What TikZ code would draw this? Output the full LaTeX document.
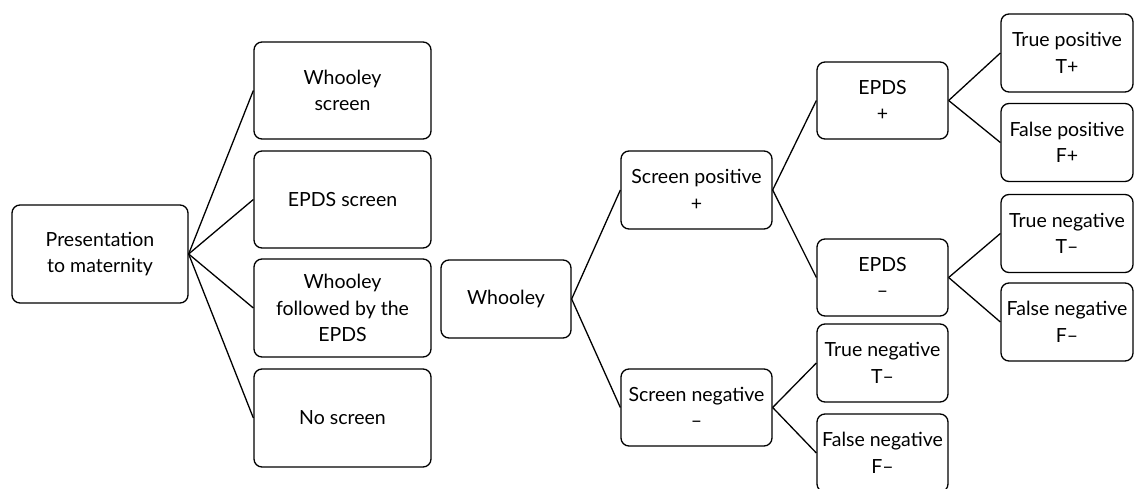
\documentclass[tikz,border=0pt]{standalone}
\usepackage{fontspec}
\setmainfont{Lato}
\begin{document}
\begin{tikzpicture}[x=1pt,y=-1pt,
  box/.style={draw,line width=1.3pt,rounded corners=8pt,align=center,inner sep=0pt,
    font=\fontsize{19.5}{26.5}\selectfont},
  conn/.style={line width=1.3pt}]
\useasboundingbox (0,0) rectangle (1135,489);
\clip (0,0) rectangle (1135,489);
\node[box,minimum width=176pt,minimum height=98pt] (pres) at (100,254) {Presentation\\to maternity};
\node[box,minimum width=177pt,minimum height=97pt] (ws) at (342.5,90.5) {Whooley\\screen};
\node[box,minimum width=177pt,minimum height=97pt] (es) at (342.5,199.5) {EPDS screen};
\node[box,minimum width=177pt,minimum height=98pt] (wf) at (342.5,308) {Whooley\\followed by the\\EPDS};
\node[box,minimum width=177pt,minimum height=98pt] (ns) at (342.5,418) {No screen};
\node[box,minimum width=130pt,minimum height=78pt] (wh) at (506,299) {Whooley};
\node[box,minimum width=151pt,minimum height=78pt] (sp) at (696.5,190) {Screen positive\\+};
\node[box,minimum width=151pt,minimum height=77pt] (sn) at (696.5,407.5) {Screen negative\\–};
\node[box,minimum width=131pt,minimum height=77pt] (ep) at (882.5,100.5) {EPDS\\+};
\node[box,minimum width=131pt,minimum height=77pt] (em) at (882.5,277.5) {EPDS\\–};
\node[box,minimum width=131pt,minimum height=78pt] (tn1) at (882.5,363) {True negative\\T–};
\node[box,minimum width=131pt,minimum height=78pt] (fn1) at (882.5,453) {False negative\\F–};
\node[box,minimum width=132pt,minimum height=78pt] (tp) at (1067,53) {True positive\\T+};
\node[box,minimum width=132pt,minimum height=78pt] (fp) at (1067,142.5) {False positive\\F+};
\node[box,minimum width=132pt,minimum height=78pt] (tn2) at (1067,233.5) {True negative\\T–};
\node[box,minimum width=132pt,minimum height=78pt] (fn2) at (1067,322) {False negative\\F–};
\foreach \c in {ws,es,wf,ns} \draw[conn] (pres.east) -- (\c.west);
\draw[conn] (wh.east) -- (sp.west);
\draw[conn] (wh.east) -- (sn.west);
\draw[conn] (sp.east) -- (ep.west);
\draw[conn] (sp.east) -- (em.west);
\draw[conn] (sn.east) -- (tn1.west);
\draw[conn] (sn.east) -- (fn1.west);
\draw[conn] (ep.east) -- (tp.west);
\draw[conn] (ep.east) -- (fp.west);
\draw[conn] (em.east) -- (tn2.west);
\draw[conn] (em.east) -- (fn2.west);
\end{tikzpicture}
\end{document}
